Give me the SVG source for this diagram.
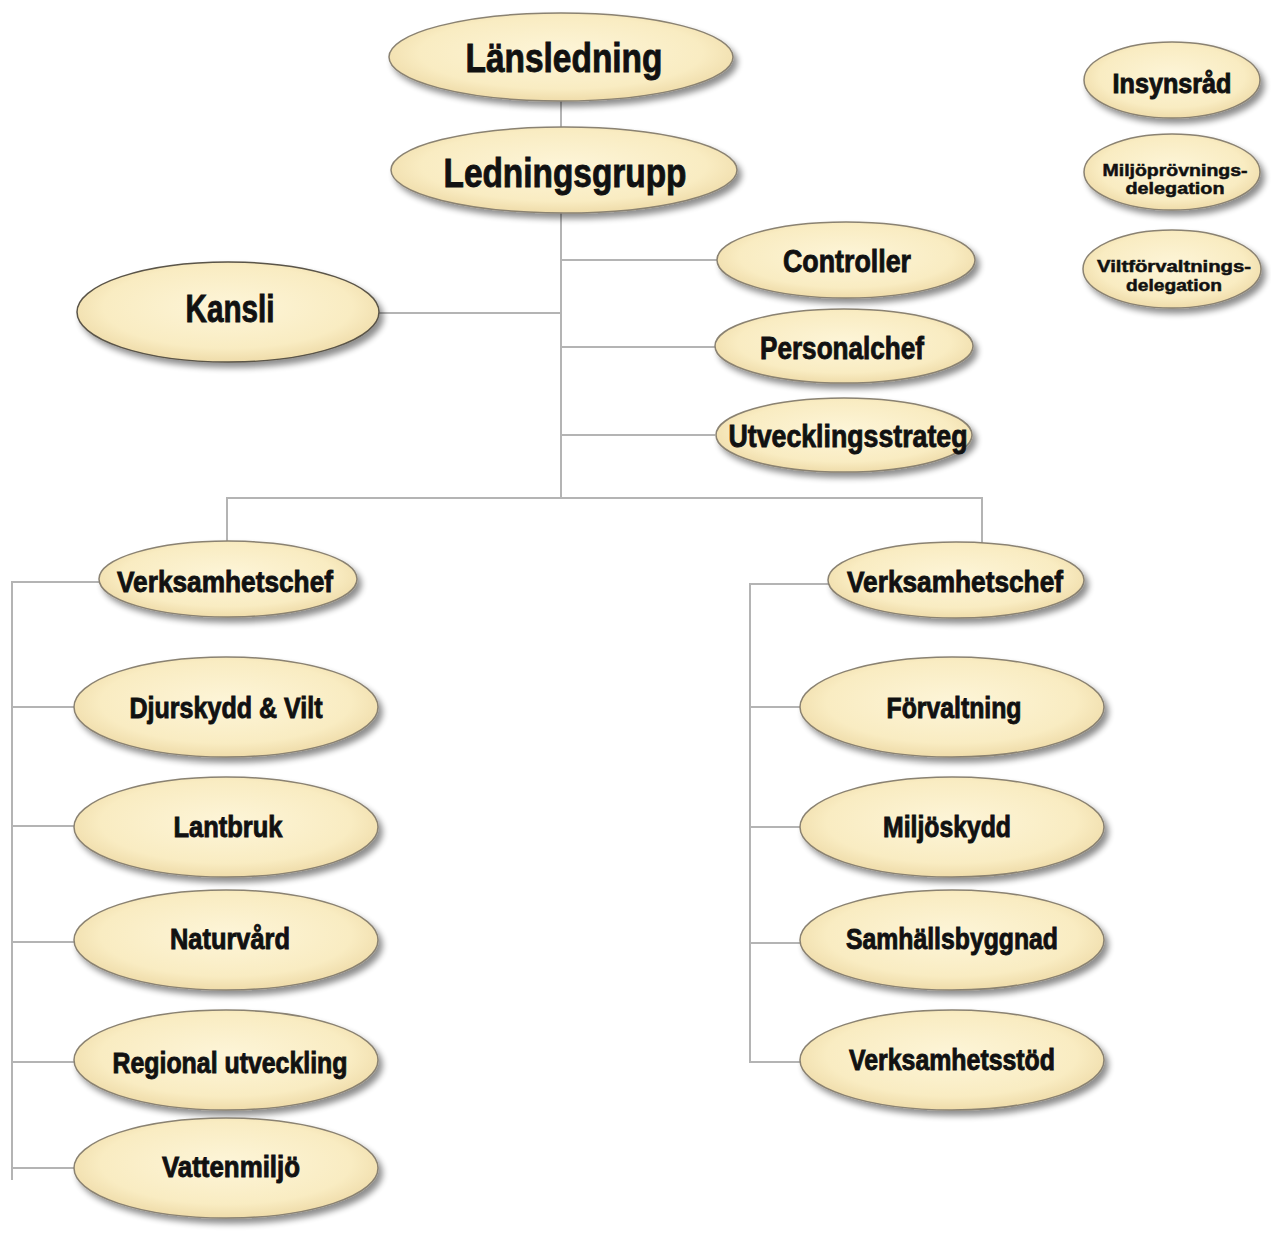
<svg xmlns="http://www.w3.org/2000/svg" width="1271" height="1234" viewBox="0 0 1271 1234">
<style>
.n{fill:url(#g);stroke:#8a8272;stroke-width:1.5;filter:url(#sh)}
.t{font-family:"Liberation Sans Narrow","Liberation Sans",Arial,sans-serif;font-weight:bold;fill:#111;stroke:#111;stroke-width:0.9;text-anchor:middle}
.s{stroke-width:0.5}
.c line{stroke:#b4b4b4;stroke-width:2}
</style>
<defs>
<radialGradient id="g" cx="50%" cy="45%" r="55%">
<stop offset="0" stop-color="#fdf5d8"/>
<stop offset="0.75" stop-color="#f9ecc2"/>
<stop offset="1" stop-color="#efdcaa"/>
</radialGradient>
<filter id="sh" x="-10%" y="-20%" width="125%" height="150%">
<feGaussianBlur in="SourceAlpha" stdDeviation="3"/>
<feOffset dx="4" dy="5" result="b"/>
<feComponentTransfer><feFuncA type="linear" slope="0.45"/></feComponentTransfer>
<feMerge><feMergeNode/><feMergeNode in="SourceGraphic"/></feMerge>
</filter>
</defs>
<rect width="1271" height="1234" fill="#fff"/>
<g class="c" id="connectors">
<line x1="561" y1="100" x2="561" y2="127"/>
<line x1="561" y1="213" x2="561" y2="498"/>
<line x1="561" y1="260" x2="717" y2="260"/>
<line x1="561" y1="347" x2="715" y2="347"/>
<line x1="561" y1="435" x2="715" y2="435"/>
<line x1="378" y1="313" x2="561" y2="313"/>
<line x1="226" y1="498" x2="983" y2="498"/>
<line x1="227" y1="497" x2="227" y2="541"/>
<line x1="982" y1="497" x2="982" y2="543"/>
<line x1="11" y1="582" x2="100" y2="582"/>
<line x1="12" y1="581" x2="12" y2="1180"/>
<line x1="12" y1="707" x2="75" y2="707"/>
<line x1="12" y1="826" x2="75" y2="826"/>
<line x1="12" y1="942" x2="75" y2="942"/>
<line x1="12" y1="1062" x2="75" y2="1062"/>
<line x1="12" y1="1168" x2="75" y2="1168"/>
<line x1="749" y1="584" x2="829" y2="584"/>
<line x1="750" y1="583" x2="750" y2="1063"/>
<line x1="750" y1="707" x2="800" y2="707"/>
<line x1="750" y1="827" x2="800" y2="827"/>
<line x1="750" y1="943" x2="800" y2="943"/>
<line x1="749" y1="1062" x2="800" y2="1062"/>
</g>
<g id="lansledning"><ellipse class="n" cx="561" cy="57" rx="172" ry="44"/><text class="t" x="564" y="72" font-size="41" textLength="197" lengthAdjust="spacingAndGlyphs">Länsledning</text></g>
<g id="ledningsgrupp"><ellipse class="n" cx="564" cy="170" rx="173" ry="43"/><text class="t" x="565" y="187" font-size="41" textLength="243" lengthAdjust="spacingAndGlyphs">Ledningsgrupp</text></g>
<g id="controller"><ellipse class="n" cx="846" cy="260" rx="129" ry="38"/><text class="t" x="847" y="272" font-size="32" textLength="128" lengthAdjust="spacingAndGlyphs">Controller</text></g>
<g id="personalchef"><ellipse class="n" cx="844" cy="346" rx="129" ry="37"/><text class="t" x="842" y="359" font-size="32" textLength="164" lengthAdjust="spacingAndGlyphs">Personalchef</text></g>
<g id="utvecklingsstrateg"><ellipse class="n" cx="844" cy="435" rx="128" ry="37"/><text class="t" x="848" y="447" font-size="32" textLength="239" lengthAdjust="spacingAndGlyphs">Utvecklingsstrateg</text></g>
<g id="kansli"><ellipse class="n" cx="228" cy="312" rx="151" ry="50" style="stroke:#5a5448"/><text class="t" x="230" y="322" font-size="38" textLength="89" lengthAdjust="spacingAndGlyphs">Kansli</text></g>
<g id="verksamhetschef-v"><ellipse class="n" cx="228" cy="579" rx="129" ry="38"/><text class="t" x="225" y="592" font-size="30" textLength="216" lengthAdjust="spacingAndGlyphs">Verksamhetschef</text></g>
<g id="verksamhetschef-h"><ellipse class="n" cx="956" cy="580" rx="128" ry="38"/><text class="t" x="955" y="592" font-size="30" textLength="216" lengthAdjust="spacingAndGlyphs">Verksamhetschef</text></g>
<g id="djurskydd"><ellipse class="n" cx="226" cy="707" rx="152" ry="50"/><text class="t" x="226" y="718" font-size="29" textLength="193" lengthAdjust="spacingAndGlyphs">Djurskydd &amp; Vilt</text></g>
<g id="lantbruk"><ellipse class="n" cx="226" cy="827" rx="152" ry="50"/><text class="t" x="228" y="837" font-size="29" textLength="109" lengthAdjust="spacingAndGlyphs">Lantbruk</text></g>
<g id="naturvard"><ellipse class="n" cx="226" cy="940" rx="152" ry="50"/><text class="t" x="230" y="949" font-size="29" textLength="120" lengthAdjust="spacingAndGlyphs">Naturvård</text></g>
<g id="regional"><ellipse class="n" cx="226" cy="1060" rx="152" ry="50"/><text class="t" x="230" y="1073" font-size="29" textLength="235" lengthAdjust="spacingAndGlyphs">Regional utveckling</text></g>
<g id="vattenmiljo"><ellipse class="n" cx="226" cy="1168" rx="152" ry="50"/><text class="t" x="231" y="1177" font-size="29" textLength="138" lengthAdjust="spacingAndGlyphs">Vattenmiljö</text></g>
<g id="forvaltning"><ellipse class="n" cx="952" cy="707" rx="152" ry="50"/><text class="t" x="954" y="718" font-size="29" textLength="135" lengthAdjust="spacingAndGlyphs">Förvaltning</text></g>
<g id="miljoskydd"><ellipse class="n" cx="952" cy="827" rx="152" ry="50"/><text class="t" x="947" y="837" font-size="29" textLength="128" lengthAdjust="spacingAndGlyphs">Miljöskydd</text></g>
<g id="samhallsbyggnad"><ellipse class="n" cx="952" cy="940" rx="152" ry="50"/><text class="t" x="952" y="949" font-size="29" textLength="212" lengthAdjust="spacingAndGlyphs">Samhällsbyggnad</text></g>
<g id="verksamhetsstod"><ellipse class="n" cx="952" cy="1060" rx="152" ry="50"/><text class="t" x="952" y="1070" font-size="29" textLength="206" lengthAdjust="spacingAndGlyphs">Verksamhetsstöd</text></g>
<g id="insynsrad"><ellipse class="n" cx="1172" cy="80" rx="88" ry="38"/><text class="t" x="1172" y="93" font-size="27" textLength="119" lengthAdjust="spacingAndGlyphs">Insynsråd</text></g>
<g id="miljoprovning"><ellipse class="n" cx="1172" cy="172" rx="88" ry="38"/><text class="t s" x="1175" y="176" font-size="17" textLength="145" lengthAdjust="spacingAndGlyphs">Miljöprövnings-</text><text class="t s" x="1175" y="194" font-size="17" textLength="99" lengthAdjust="spacingAndGlyphs">delegation</text></g>
<g id="viltforvaltning"><ellipse class="n" cx="1172" cy="269" rx="89" ry="39"/><text class="t s" x="1174" y="272" font-size="17" textLength="154" lengthAdjust="spacingAndGlyphs">Viltförvaltnings-</text><text class="t s" x="1174" y="291" font-size="17" textLength="96" lengthAdjust="spacingAndGlyphs">delegation</text></g>
</svg>
